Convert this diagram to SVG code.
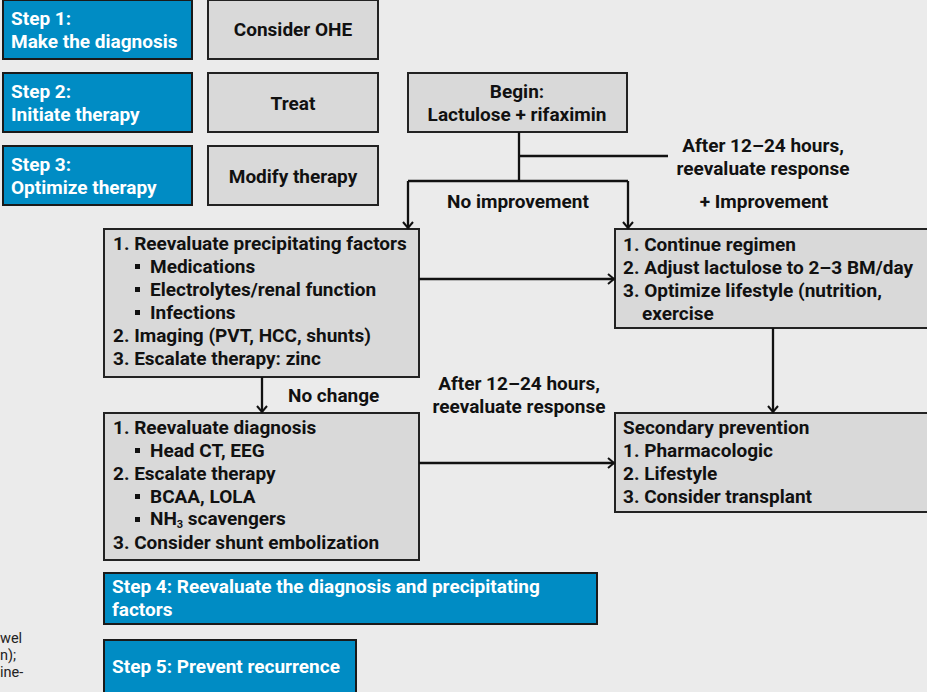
<svg xmlns="http://www.w3.org/2000/svg" width="927" height="692" viewBox="0 0 927 692">
<defs>
<marker id="arr" markerWidth="12" markerHeight="12" refX="9" refY="6" orient="auto" markerUnits="userSpaceOnUse">
<path d="M3,1 L9,6 L3,11" fill="none" stroke="#111" stroke-width="2"/>
</marker>
<style>
.bg{fill:#ebebeb}
.step rect{fill:#008cc4;stroke:#1a1a1a;stroke-width:2}
.step text{fill:#fff}
.box rect{fill:#d9d9d9;stroke:#222;stroke-width:2}
.box rect.bul{fill:#111;stroke:none}
text{font-family:Roboto,"Liberation Sans",sans-serif;font-weight:bold;font-size:19px;fill:#111}
.c{text-anchor:middle}
.conn path{fill:none;stroke:#111;stroke-width:2.3}
.a{marker-end:url(#arr)}
.note{font-weight:normal;font-size:14.5px;fill:#222}
</style>
</defs>
<rect class="bg" x="0" y="0" width="927" height="692"/>

<g id="step1" class="step"><rect x="3" y="0" width="189" height="59"/><text x="11" y="25">Step 1:</text><text x="11" y="48">Make the diagnosis</text></g>
<g id="step2" class="step"><rect x="3" y="73" width="189" height="59"/><text x="11" y="98">Step 2:</text><text x="11" y="121">Initiate therapy</text></g>
<g id="step3" class="step"><rect x="3" y="146" width="189" height="59"/><text x="11" y="171">Step 3:</text><text x="11" y="194">Optimize therapy</text></g>

<g id="consider" class="box"><rect x="208" y="0" width="170" height="59"/><text class="c" x="293" y="36">Consider OHE</text></g>
<g id="treat" class="box"><rect x="208" y="73" width="170" height="59"/><text class="c" x="293" y="110">Treat</text></g>
<g id="modify" class="box"><rect x="208" y="146" width="170" height="59"/><text class="c" x="293" y="183">Modify therapy</text></g>

<g id="begin" class="box"><rect x="408" y="73" width="219" height="59"/><text class="c" x="517" y="98">Begin:</text><text class="c" x="517" y="121">Lactulose + rifaximin</text></g>

<g id="boxA" class="box"><rect x="104" y="229" width="315" height="148"/>
<text x="113" y="250">1. Reevaluate precipitating factors</text>
<rect class="bul" x="135" y="264" width="5" height="5"/><text x="150" y="273">Medications</text>
<rect class="bul" x="135" y="287" width="5" height="5"/><text x="150" y="296">Electrolytes/renal function</text>
<rect class="bul" x="135" y="310" width="5" height="5"/><text x="150" y="319">Infections</text>
<text x="113" y="342">2. Imaging (PVT, HCC, shunts)</text>
<text x="113" y="365">3. Escalate therapy: zinc</text>
</g>

<g id="boxB" class="box"><rect x="104" y="413" width="315" height="147"/>
<text x="113" y="434">1. Reevaluate diagnosis</text>
<rect class="bul" x="135" y="448" width="5" height="5"/><text x="150" y="457">Head CT, EEG</text>
<text x="113" y="480">2. Escalate therapy</text>
<rect class="bul" x="135" y="494" width="5" height="5"/><text x="150" y="503">BCAA, LOLA</text>
<rect class="bul" x="135" y="517" width="5" height="5"/><text x="150" y="525">NH<tspan font-size="11" dy="3">3</tspan><tspan dy="-3"> scavengers</tspan></text>
<text x="113" y="549">3. Consider shunt embolization</text>
</g>

<g id="boxC" class="box"><rect x="615" y="229" width="320" height="99"/>
<text x="623" y="251">1. Continue regimen</text>
<text x="623" y="274">2. Adjust lactulose to 2–3 BM/day</text>
<text x="623" y="297">3. Optimize lifestyle (nutrition,</text>
<text x="642" y="320">exercise</text>
</g>

<g id="boxD" class="box"><rect x="615" y="413" width="320" height="99"/>
<text x="623" y="434">Secondary prevention</text>
<text x="623" y="457">1. Pharmacologic</text>
<text x="623" y="480">2. Lifestyle</text>
<text x="623" y="503">3. Consider transplant</text>
</g>

<g id="step4" class="step"><rect x="104" y="573" width="493" height="51"/><text x="112" y="593">Step 4: Reevaluate the diagnosis and precipitating</text><text x="112" y="616">factors</text></g>
<g id="step5" class="step"><rect x="104" y="640" width="252" height="60"/><text x="112" y="673">Step 5: Prevent recurrence</text></g>

<g id="connectors" class="conn">
<path d="M519,132 V181"/>
<path d="M519,156 H668"/>
<path class="a" d="M408,181 H628 M408,181 V228"/>
<path class="a" d="M628,181 V228"/>
<path class="a" d="M419,279 H614"/>
<path class="a" d="M262,377 V412"/>
<path class="a" d="M773,328 V412"/>
<path class="a" d="M419,463 H614"/>
</g>

<g id="labels">
<text class="c" x="763" y="152">After 12–24 hours,</text>
<text class="c" x="763" y="175">reevaluate response</text>
<text class="c" x="518" y="208">No improvement</text>
<text class="c" x="764" y="208">+ Improvement</text>
<text x="288" y="402">No change</text>
<text class="c" x="519" y="390">After 12–24 hours,</text>
<text class="c" x="519" y="413">reevaluate response</text>
</g>

<g id="notes">
<text class="note" x="0" y="643">wel</text>
<text class="note" x="0" y="660">n);</text>
<text class="note" x="0" y="677">ine-</text>
</g>
</svg>
